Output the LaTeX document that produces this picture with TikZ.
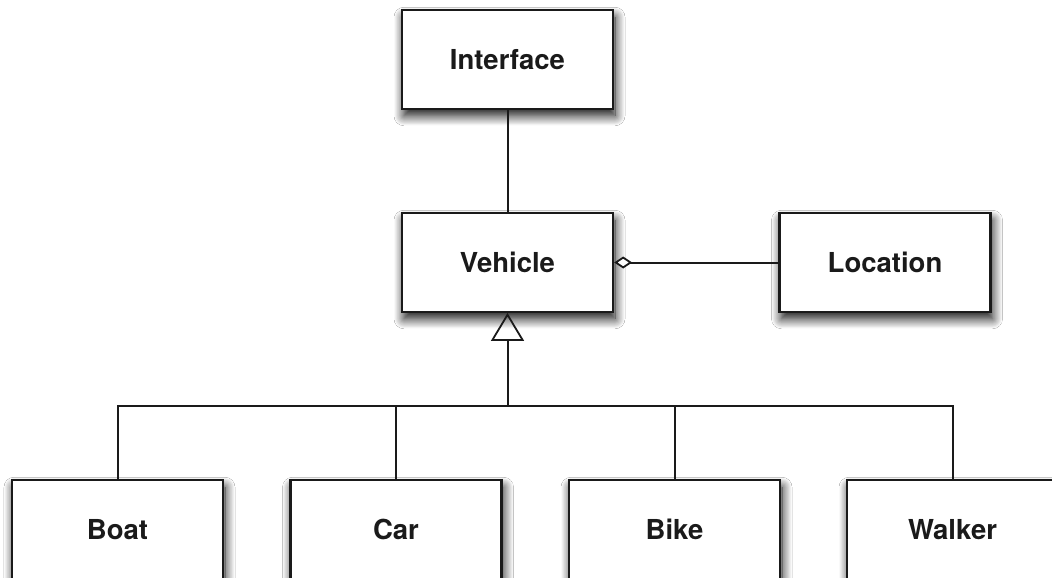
\documentclass[tikz,border=0pt]{standalone}
\usepackage{fontspec}
\setmainfont{TeX Gyre Heros}
\usetikzlibrary{arrows.meta,shadows.blur}
\definecolor{ink}{HTML}{1A1A1A}
\tikzset{
  classbox/.style={draw=ink, line width=2.4pt, fill=white, rectangle,
    minimum width=211pt, minimum height=98.5pt, inner sep=0pt,
    font=\fontsize{27.5}{30}\selectfont\bfseries, text=ink,
    blur shadow={shadow xshift=2pt, shadow yshift=-7pt,
      shadow blur radius=10pt, shadow blur steps=16, shadow opacity=95}},
  link/.style={draw=ink, line width=2pt},
  generalization/.style={link, -{Triangle[open, length=28pt, width=33pt, line width=1.8pt]}},
  aggregation/.style={link, -{Diamond[length=18pt, width=12pt, fill=white, line width=1.8pt]}}
}
\begin{document}
\begin{tikzpicture}[x=1pt, y=-1pt]
  \useasboundingbox (0,0) rectangle (1052,578);
  \clip (0,0) rectangle (1052,578);
  \fill[white] (0,0) rectangle (1052,578);

  % classes
  \node[classbox] (iface)    at (507.5, 59.5)  {Interface};
  \node[classbox] (vehicle)  at (507.5, 262.5) {Vehicle};
  \node[classbox] (location) at (885, 262.5)   {Location};
  \node[classbox] (boat)     at (117.5, 529.5) {Boat};
  \node[classbox] (car)      at (396, 529.5)   {Car};
  \node[classbox] (bike)     at (674.5, 529.5) {Bike};
  \node[classbox] (walker)   at (952.5, 529.5) {Walker};

  % interface link
  \draw[link] (iface.south) -- (vehicle.north);

  % aggregation of Location in Vehicle
  \draw[aggregation] (location.west) -- (vehicle.east);

  % generalization tree
  \coordinate (bus) at (507.5, 406);
  \draw[link] (boat.north) |- (bus) -| (walker.north);
  \draw[link] (car.north) -- (car.north |- bus);
  \draw[link] (bike.north) -- (bike.north |- bus);
  \draw[generalization] (bus) -- (vehicle.south);
\end{tikzpicture}
\end{document}
